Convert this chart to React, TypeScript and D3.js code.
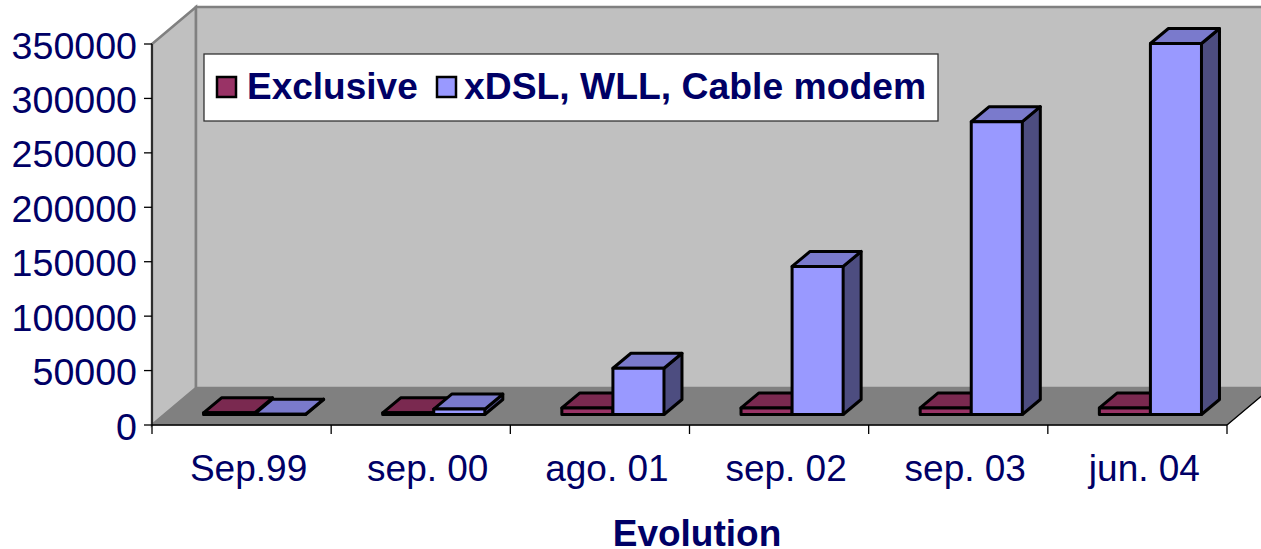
import * as d3 from "d3"

const categories = ["Sep.99", "sep. 00", "ago. 01", "sep. 02", "sep. 03", "jun. 04"]
const exclusive = [1500, 1500, 6000, 6000, 6000, 6000]
const xdsl = [300, 5000, 42500, 136000, 269000, 340800]
const yTicks = [0, 50000, 100000, 150000, 200000, 250000, 300000, 350000]
const seriesNames = ["Exclusive", "xDSL, WLL, Cable modem"]

const navy = "#000066"
const font = "'Liberation Sans', Arial, sans-serif"
const width = 1261
const height = 549

// plot front plane and the 3D offsets
const left = 152
const right = 1227
const bottom = 425
const top = 44
const wallDx = 44
const wallDy = -37
const barShiftX = 13
const barShiftY = -10.5
const barDx = 18
const barDy = -15

const x = d3.scaleBand<string>().domain(categories).range([left, right]).paddingInner(0.43).paddingOuter(0.215)
const y = d3.scaleLinear().domain([0, 350000]).range([bottom, top])
const poly = d3.line()

const colors = [
    { front: "#993366", top: "#7a2950", side: "#4d1a33" },
    { front: "#9999ff", top: "#7a7acc", side: "#4d4d80" },
]

const Bar = ({ x0, w, value, c }: { x0: number; w: number; value: number; c: typeof colors[0] }) => {
    const bx = x0 + barShiftX
    const yb = y(0) + barShiftY
    const yt = y(value) + barShiftY
    return (
        <g stroke="#000" strokeWidth={3} strokeLinejoin="round">
            <path d={poly([[bx + w, yt], [bx + w + barDx, yt + barDy], [bx + w + barDx, yb + barDy], [bx + w, yb]])!} fill={c.side} />
            <path d={poly([[bx, yt], [bx + barDx, yt + barDy], [bx + w + barDx, yt + barDy], [bx + w, yt]])! + "Z"} fill={c.top} />
            <rect x={bx} y={yt} width={w} height={yb - yt} fill={c.front} />
        </g>
    )
}

const App = () => {
    const barW = x.bandwidth() / 2
    const ticksX = [...categories.map((_, i) => left + i * x.step()), right]
    return (
        <svg width={width} height={height} style={{ position: "absolute", left: 0, top: 0, background: "#fff" }} fontFamily={font}>
            {/* walls and floor */}
            <path d={poly([[left, top], [left + wallDx, top + wallDy], [left + wallDx, bottom + wallDy], [left, bottom]])! + "Z"} fill="#c0c0c0" stroke="#808080" strokeWidth={2.5} />
            <path d={poly([[left + wallDx, top + wallDy], [right + wallDx, top + wallDy], [right + wallDx, bottom + wallDy], [left + wallDx, bottom + wallDy]])! + "Z"} fill="#c0c0c0" stroke="#808080" strokeWidth={2.5} />
            <path d={poly([[left, bottom], [left + wallDx, bottom + wallDy], [right + wallDx, bottom + wallDy], [right, bottom]])! + "Z"} fill="#808080" stroke="#808080" />

            {/* axes */}
            <g stroke="#000" strokeWidth={1.3}>
                <line x1={left} x2={left} y1={top} y2={bottom} />
                <line x1={left} x2={right} y1={bottom} y2={bottom} />
                <line x1={right} x2={right + wallDx} y1={bottom} y2={bottom + wallDy} />
                {yTicks.map(t => <line key={t} x1={left - 8} x2={left} y1={y(t)} y2={y(t)} />)}
                {ticksX.map(t => <line key={t} x1={t} x2={t} y1={bottom} y2={bottom + 9} />)}
            </g>
            {yTicks.map(t => (
                <text key={t} x={137} y={y(t) + 1} dy="0.36em" textAnchor="end" fontSize={37.6} fill={navy}>{t}</text>
            ))}
            {categories.map(c => (
                <text key={c} x={x(c)! + x.bandwidth() / 2 + 7} y={481} textAnchor="middle" fontSize={37} fill={navy}>{c}</text>
            ))}
            <text x={697} y={545.5} textAnchor="middle" fontSize={37} fontWeight="bold" fill={navy}>Evolution</text>

            {/* bars */}
            {categories.map((c, i) => (
                <g key={c}>
                    <Bar x0={x(c)!} w={barW} value={exclusive[i]} c={colors[0]} />
                    <Bar x0={x(c)! + barW} w={barW} value={xdsl[i]} c={colors[1]} />
                </g>
            ))}

            {/* legend */}
            <rect x={204} y={54} width={734} height={67} fill="#fff" stroke="#333" strokeWidth={1.3} />
            <rect x={217} y={77} width={19} height={20} fill={colors[0].front} stroke="#000" strokeWidth={2.5} />
            <text x={247} y={99} fontSize={37} fontWeight="bold" fill={navy}>{seriesNames[0]}</text>
            <rect x={437} y={77} width={19} height={20} fill={colors[1].front} stroke="#000" strokeWidth={2.5} />
            <text x={464} y={99} fontSize={37.3} fontWeight="bold" fill={navy}>{seriesNames[1]}</text>
        </svg>
    )
}

export default App
